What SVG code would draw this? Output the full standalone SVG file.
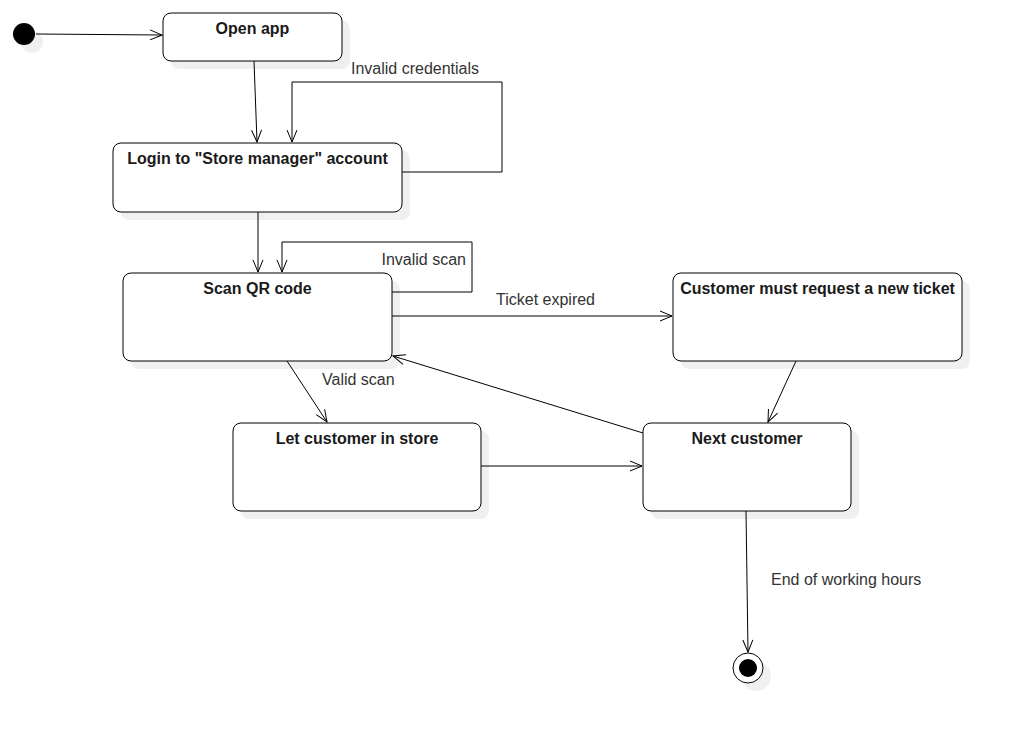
<svg xmlns="http://www.w3.org/2000/svg" width="1012" height="733" viewBox="0 0 1012 733">
<style>
.shadow{fill:#000;fill-opacity:0.06;stroke:none}
.node{fill:#fff;stroke:#000;stroke-width:1}
.title{font-family:"Liberation Sans",Arial,sans-serif;font-size:16px;font-weight:bold;fill:#1a1a1a;text-anchor:middle}
.lbl{font-family:"Liberation Sans",Arial,sans-serif;font-size:16px;fill:#333}
.edge{fill:none;stroke:#000;stroke-width:1;marker-end:url(#arr)}
</style>
<defs>
<marker id="arr" viewBox="0 0 14 12" refX="13" refY="6" markerWidth="14" markerHeight="12" markerUnits="userSpaceOnUse" orient="auto">
<path d="M1,1 L13,6 L1,11" fill="none" stroke="#000" stroke-width="1"/>
</marker>
</defs>
<rect width="1012" height="733" fill="#fff"/>
<g id="initial">
<circle class="shadow" cx="32" cy="42" r="11"/>
<circle cx="24" cy="34" r="11" fill="#000"/>
</g>
<g id="open-app">
<rect class="shadow" x="171" y="21" width="179" height="48" rx="8"/>
<rect class="node" x="163" y="13" width="179" height="48" rx="8"/>
<text class="title" x="252.5" y="34">Open app</text>
</g>
<g id="login">
<rect class="shadow" x="121" y="151" width="289" height="69" rx="8"/>
<rect class="node" x="113" y="143" width="289" height="69" rx="8"/>
<text class="title" x="257.5" y="164">Login to "Store manager" account</text>
</g>
<g id="scan">
<rect class="shadow" x="131" y="281" width="269" height="88" rx="8"/>
<rect class="node" x="123" y="273" width="269" height="88" rx="8"/>
<text class="title" x="257.5" y="294">Scan QR code</text>
</g>
<g id="request-ticket">
<rect class="shadow" x="681" y="281" width="289" height="88" rx="8"/>
<rect class="node" x="673" y="273" width="289" height="88" rx="8"/>
<text class="title" x="817.5" y="294">Customer must request a new ticket</text>
</g>
<g id="let-in">
<rect class="shadow" x="241" y="431" width="248" height="88" rx="8"/>
<rect class="node" x="233" y="423" width="248" height="88" rx="8"/>
<text class="title" x="357" y="444">Let customer in store</text>
</g>
<g id="next-customer">
<rect class="shadow" x="651" y="431" width="208" height="88" rx="8"/>
<rect class="node" x="643" y="423" width="208" height="88" rx="8"/>
<text class="title" x="747" y="444">Next customer</text>
</g>
<g id="final">
<circle class="shadow" cx="756" cy="676" r="15"/>
<circle cx="748" cy="668" r="15" fill="#fff" stroke="#000" stroke-width="1"/>
<circle cx="748" cy="668" r="9" fill="#000"/>
</g>
<g id="connectors">
<path class="edge" d="M36,34 L162,35"/>
<path class="edge" d="M254,61 L257,142"/>
<path class="edge" d="M402,172 L502,172 L502,82 L292,82 L292,142"/>
<text class="lbl" x="351" y="74">Invalid credentials</text>
<path class="edge" d="M258,212 L258,272"/>
<path class="edge" d="M392,292 L472,292 L472,242 L282,242 L282,272"/>
<text class="lbl" x="466" y="265" text-anchor="end">Invalid scan</text>
<path class="edge" d="M392,316 L672,316"/>
<text class="lbl" x="496" y="305">Ticket expired</text>
<path class="edge" d="M287,361 L327,422"/>
<text class="lbl" x="322" y="385">Valid scan</text>
<path class="edge" d="M481,466 L642,466"/>
<path class="edge" d="M643,433 L393,356"/>
<path class="edge" d="M796,361 L768,422"/>
<path class="edge" d="M746,511 L748,652"/>
<text class="lbl" x="771" y="585">End of working hours</text>
</g>
</svg>
